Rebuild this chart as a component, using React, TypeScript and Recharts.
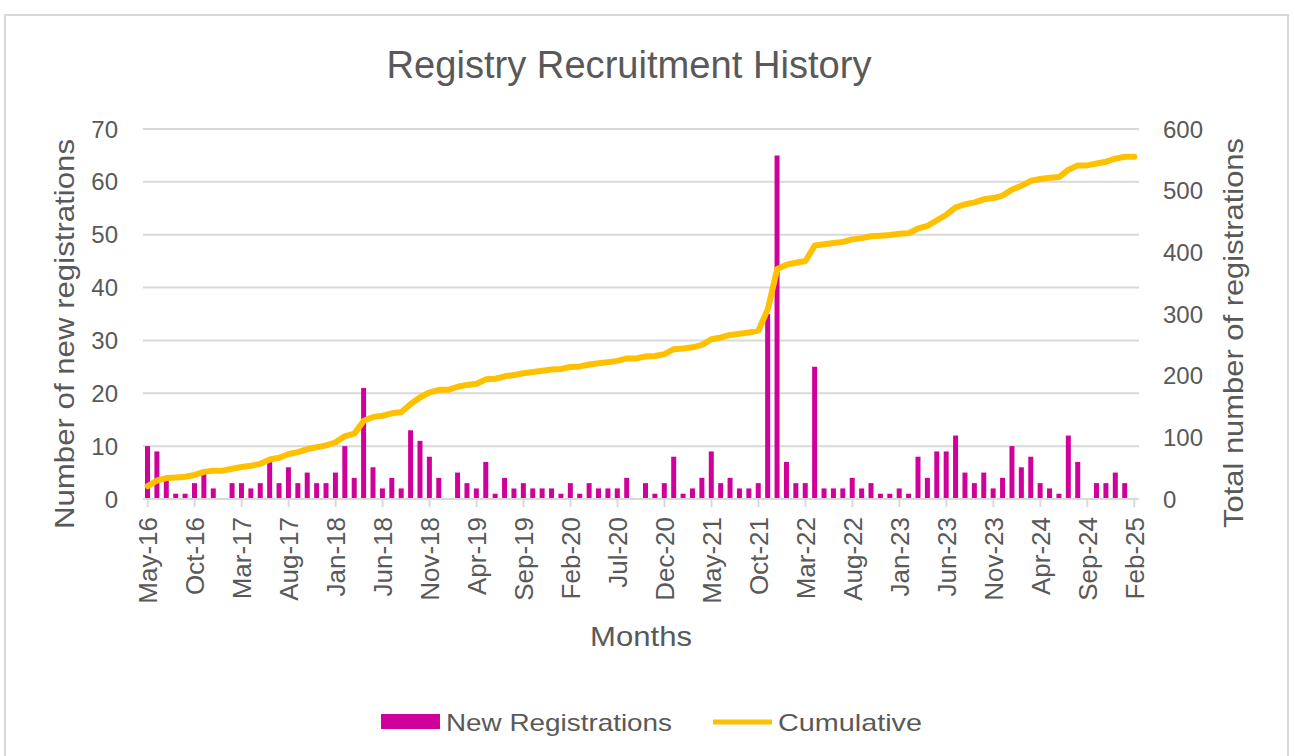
import React from 'react';
import { ComposedChart, Bar, Line, XAxis, YAxis, CartesianGrid } from 'recharts';

const months = [
  'May-16','Jun-16','Jul-16','Aug-16','Sep-16','Oct-16','Nov-16','Dec-16',
  'Jan-17','Feb-17','Mar-17','Apr-17','May-17','Jun-17','Jul-17','Aug-17','Sep-17','Oct-17','Nov-17','Dec-17',
  'Jan-18','Feb-18','Mar-18','Apr-18','May-18','Jun-18','Jul-18','Aug-18','Sep-18','Oct-18','Nov-18','Dec-18',
  'Jan-19','Feb-19','Mar-19','Apr-19','May-19','Jun-19','Jul-19','Aug-19','Sep-19','Oct-19','Nov-19','Dec-19',
  'Jan-20','Feb-20','Mar-20','Apr-20','May-20','Jun-20','Jul-20','Aug-20','Sep-20','Oct-20','Nov-20','Dec-20',
  'Jan-21','Feb-21','Mar-21','Apr-21','May-21','Jun-21','Jul-21','Aug-21','Sep-21','Oct-21','Nov-21','Dec-21',
  'Jan-22','Feb-22','Mar-22','Apr-22','May-22','Jun-22','Jul-22','Aug-22','Sep-22','Oct-22','Nov-22','Dec-22',
  'Jan-23','Feb-23','Mar-23','Apr-23','May-23','Jun-23','Jul-23','Aug-23','Sep-23','Oct-23','Nov-23','Dec-23',
  'Jan-24','Feb-24','Mar-24','Apr-24','May-24','Jun-24','Jul-24','Aug-24','Sep-24','Oct-24','Nov-24','Dec-24',
  'Jan-25','Feb-25'
];

const newRegistrations = [
  10, 9, 4, 1, 1, 3, 5, 2, 0, 3, 3, 2, 3, 7, 3, 6, 3, 5, 3, 3, 5, 10, 4, 21, 6,
  2, 4, 2, 13, 11, 8, 4, 0, 5, 3, 2, 7, 1, 4, 2, 3, 2, 2, 2, 1, 3, 1, 3, 2, 2, 2,
  4, 0, 3, 1, 3, 8, 1, 2, 4, 9, 3, 4, 2, 2, 3, 35, 65, 7, 3, 3, 25, 2, 2, 2, 4,
  2, 3, 1, 1, 2, 1, 8, 4, 9, 9, 12, 5, 3, 5, 2, 4, 10, 6, 8, 3, 2, 1, 12, 7, 0, 3, 3, 5, 3, 0
];

const cumulative = [
  21, 30, 34, 35, 36, 39, 44, 46, 46, 49, 52, 54, 57, 64, 67, 73, 76, 81, 84, 87, 92, 102, 106, 127, 133,
  135, 139, 141, 154, 165, 173, 177, 177, 182, 185, 187, 194, 195, 199, 201, 204, 206, 208, 210, 211, 214, 215, 218, 220, 222, 224,
  228, 228, 231, 232, 235, 243, 244, 246, 250, 259, 262, 266, 268, 270, 273, 308, 373, 380, 383, 386, 411, 413, 415, 417, 421,
  423, 426, 427, 428, 430, 431, 439, 443, 452, 461, 473, 478, 481, 486, 488, 492, 502, 508, 516, 519, 521, 522, 534, 541, 541, 544, 547, 552, 555, 555
];

const leftTicks = [0, 10, 20, 30, 40, 50, 60, 70];
const rightTicks = [0, 100, 200, 300, 400, 500, 600];

const data = months.map((m, i) => ({ month: m, newReg: newRegistrations[i], cum: cumulative[i] }));

const TEXT = '#595959';
const GRID = '#d9d9d9';
const PINK = '#D0009A';
const GOLD = '#FFC000';
const FONT = '"Liberation Sans", Arial, sans-serif';

const XTick = (props: any) => {
  const { x, y, payload } = props;
  return (
    <text
      transform={`translate(${x},${y + 10}) rotate(-90)`}
      textAnchor="end"
      dy="0.36em"
      fontSize={26}
      fill={TEXT}
      fontFamily={FONT}
    >
      {payload.value}
    </text>
  );
};

export default function App() {
  return (
    <div style={{ position: 'absolute', left: 0, top: 0, width: 1295, height: 756, overflow: 'hidden', background: '#ffffff' }}>
      <div style={{ position: 'absolute', left: 4, top: 14, width: 1281, height: 800, border: `2px solid ${GRID}`, background: '#fff' }} />
      <div style={{ position: 'absolute', left: 0, top: 0 }}>
        <ComposedChart
          width={1295}
          height={756}
          data={data}
          margin={{ top: 129, right: 56, bottom: 137, left: 43 }}
          barCategoryGap={0}
        >
          <CartesianGrid yAxisId="left" vertical={false} stroke={GRID} strokeWidth={2} />
          <XAxis
            dataKey="month"
            interval={4}
            height={120}
            tickSize={8}
            tickMargin={0}
            tickLine={{ stroke: GRID, strokeWidth: 2 }}
            axisLine={{ stroke: GRID, strokeWidth: 2 }}
            tick={<XTick />}
          />
          <YAxis
            yAxisId="left"
            orientation="left"
            width={100}
            domain={[0, 70]}
            ticks={leftTicks}
            axisLine={false}
            tickLine={false}
            tickSize={0}
            tickMargin={25}
            tick={{ fill: TEXT, fontSize: 24, fontFamily: FONT }}
          />
          <YAxis
            yAxisId="right"
            orientation="right"
            width={100}
            domain={[0, 600]}
            ticks={rightTicks}
            axisLine={false}
            tickLine={false}
            tickSize={0}
            tickMargin={24}
            tick={{ fill: TEXT, fontSize: 24, fontFamily: FONT, textAnchor: 'start' }}
          />
          <Bar yAxisId="left" dataKey="newReg" fill={PINK} barSize={5} isAnimationActive={false} />
          <Line
            yAxisId="right"
            dataKey="cum"
            type="linear"
            stroke={GOLD}
            strokeWidth={6}
            strokeLinecap="round"
            strokeLinejoin="round"
            dot={false}
            activeDot={false}
            isAnimationActive={false}
          />
        </ComposedChart>
      </div>
      <svg width={1295} height={756} style={{ position: 'absolute', left: 0, top: 0, pointerEvents: 'none' }}>
        <text x={629} y={78} textAnchor="middle" fontSize={38} fill={TEXT} fontFamily={FONT} textLength={485} lengthAdjust="spacingAndGlyphs">
          Registry Recruitment History
        </text>
        <text transform="translate(74,334) rotate(-90)" textAnchor="middle" fontSize={28} fill={TEXT} fontFamily={FONT} textLength={390} lengthAdjust="spacingAndGlyphs">
          Number of new registrations
        </text>
        <text transform="translate(1243,333) rotate(-90)" textAnchor="middle" fontSize={28} fill={TEXT} fontFamily={FONT} textLength={390} lengthAdjust="spacingAndGlyphs">
          Total number of registrations
        </text>
        <text x={641} y={646} textAnchor="middle" fontSize={28} fill={TEXT} fontFamily={FONT} textLength={102} lengthAdjust="spacingAndGlyphs">
          Months
        </text>
        <rect x={381} y={714} width={59} height={15} fill={PINK} />
        <text x={446} y={731} fontSize={24} fill={TEXT} fontFamily={FONT} textLength={226} lengthAdjust="spacingAndGlyphs">
          New Registrations
        </text>
        <line x1={713} y1={722} x2={772} y2={722} stroke={GOLD} strokeWidth={5} />
        <text x={778} y={731} fontSize={24} fill={TEXT} fontFamily={FONT} textLength={144} lengthAdjust="spacingAndGlyphs">
          Cumulative
        </text>
      </svg>
    </div>
  );
}
